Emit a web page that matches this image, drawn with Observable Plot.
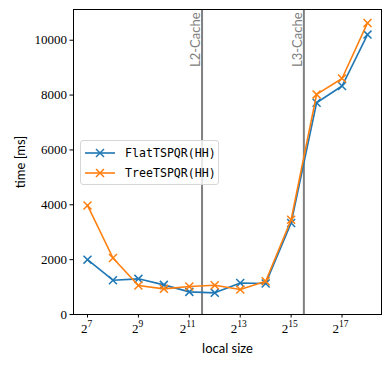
<!DOCTYPE html>
<html><head><meta charset="utf-8">
<script src="https://cdn.jsdelivr.net/npm/d3@7"></script>
<script src="https://cdn.jsdelivr.net/npm/@observablehq/plot@0.6"></script>
<style>
body{margin:0;background:#fff;}
#wrap{position:relative;width:391px;height:365px;}
#wrap svg{overflow:visible}
g[aria-label="y-axis label"] text, g[aria-label="x-axis label"] text{font-family:Lato,sans-serif;font-size:13px;fill:#000}
#legend{position:absolute;left:80px;top:140px;width:137px;height:43px;border:1px solid #d6d6d6;border-radius:3px;background:rgba(255,255,255,0.8);font-family:"DejaVu Sans Mono",monospace;font-size:11.6px;}
#legend .row{position:absolute;left:0;height:20px;display:flex;align-items:center}
#legend .row svg{width:40px;height:12px;}
#legend .row span{margin-left:4px}
</style>
</head><body>
<div id="wrap"></div>
<script>
const localSize = [128,256,512,1024,2048,4096,8192,16384,32768,65536,131072,262144];
const flatTime = [2000,1250,1300,1080,825,790,1150,1130,3335,7720,8330,10205];
const treeTime = [3975,2060,1055,935,1020,1065,910,1210,3455,8025,8605,10630];
const seriesNames = ["FlatTSPQR(HH)","TreeTSPQR(HH)"];
const seriesColors = ["#1f77b4","#ff7f0e"];
const cacheSizes = [2896.3, 46341.0];
const cacheLabels = ["L2-Cache","L3-Cache"];
const xTickValues = [128,512,2048,8192,32768,131072];
const xTickExps = ["7","9","11","13","15","17"];
const yTickValues = [0,2000,4000,6000,8000,10000];

const seriesValues = [flatTime, treeTime];
const rows = seriesNames.map((name,i)=>localSize.map((s,j)=>({size:s, time:seriesValues[i][j], series:name})));
const cacheRows = cacheSizes.map((s,i)=>({size:s,label:cacheLabels[i]}));
const expOf = (d)=>xTickExps[xTickValues.indexOf(d)];
const ticks1 = xTickValues.filter(d=>expOf(d).length===1);
const ticks2 = xTickValues.filter(d=>expOf(d).length===2);

const marks = [
  Plot.ruleX(cacheRows,{x:"size",stroke:"#808080",strokeWidth:2}),
  Plot.text(cacheRows,{x:"size",text:"label",frameAnchor:"top",rotate:-90,textAnchor:"end",lineAnchor:"bottom",dx:-2,dy:3,fill:"#808080",fontFamily:"Lato",fontSize:13}),
];
rows.forEach((r,i)=>{
  marks.push(Plot.line(r,{x:"size",y:"time",stroke:seriesColors[i],strokeWidth:1.6}));
  marks.push(Plot.dot(r,{x:"size",y:"time",symbol:"times",r:3.7,stroke:seriesColors[i],strokeWidth:1.5}));
});
marks.push(Plot.frame({stroke:"#000",strokeWidth:1}));
// x ticks + base "2" and exponent parts
marks.push(Plot.axisX({ticks:xTickValues,tickSize:3.5,text:null,label:"local size",labelAnchor:"center",labelArrow:"none",labelOffset:38}));
[[ticks1,0],[ticks2,-3]].forEach(([tv,dx])=>{
  marks.push(Plot.axisX({ticks:tv,tickSize:0,tickPadding:6.5,tickFormat:()=>"2",textAnchor:"end",dx,dy:3,fontFamily:"Liberation Serif",fontSize:13,label:null}));
  marks.push(Plot.axisX({ticks:tv,tickSize:0,tickPadding:6.5,tickFormat:expOf,textAnchor:"start",dx,dy:-1,fontFamily:"Liberation Serif",fontSize:9.5,label:null}));
});
marks.push(Plot.axisY({ticks:yTickValues,tickSize:3.5,tickPadding:3,tickFormat:d3.format("d"),fontFamily:"Liberation Serif",fontSize:13,label:"time [ms]",labelAnchor:"center",labelArrow:"none",labelOffset:58}));

const chart = Plot.plot({
  width:391,height:365,
  marginLeft:73,marginRight:10,marginTop:9,marginBottom:51,
  style:{background:"#fff",color:"#000"},
  x:{type:"log",base:2,domain:[2**6.45,2**18.55]},
  y:{domain:[0,11120]},
  marks
});
const wrap = document.getElementById("wrap");
wrap.appendChild(chart);

const legend = document.createElement("div");
legend.id="legend";
seriesNames.forEach((name,i)=>{
  const row=document.createElement("div");
  row.className="row";
  row.style.top=(2+i*20)+"px";
  row.innerHTML=`<svg viewBox="0 0 40 12"><line x1="4" y1="6" x2="34" y2="6" stroke="${seriesColors[i]}" stroke-width="1.6"/><path d="M15,2L23,10M23,2L15,10" stroke="${seriesColors[i]}" stroke-width="1.5"/></svg><span>${name}</span>`;
  legend.appendChild(row);
});
wrap.appendChild(legend);
</script>
</body></html>
